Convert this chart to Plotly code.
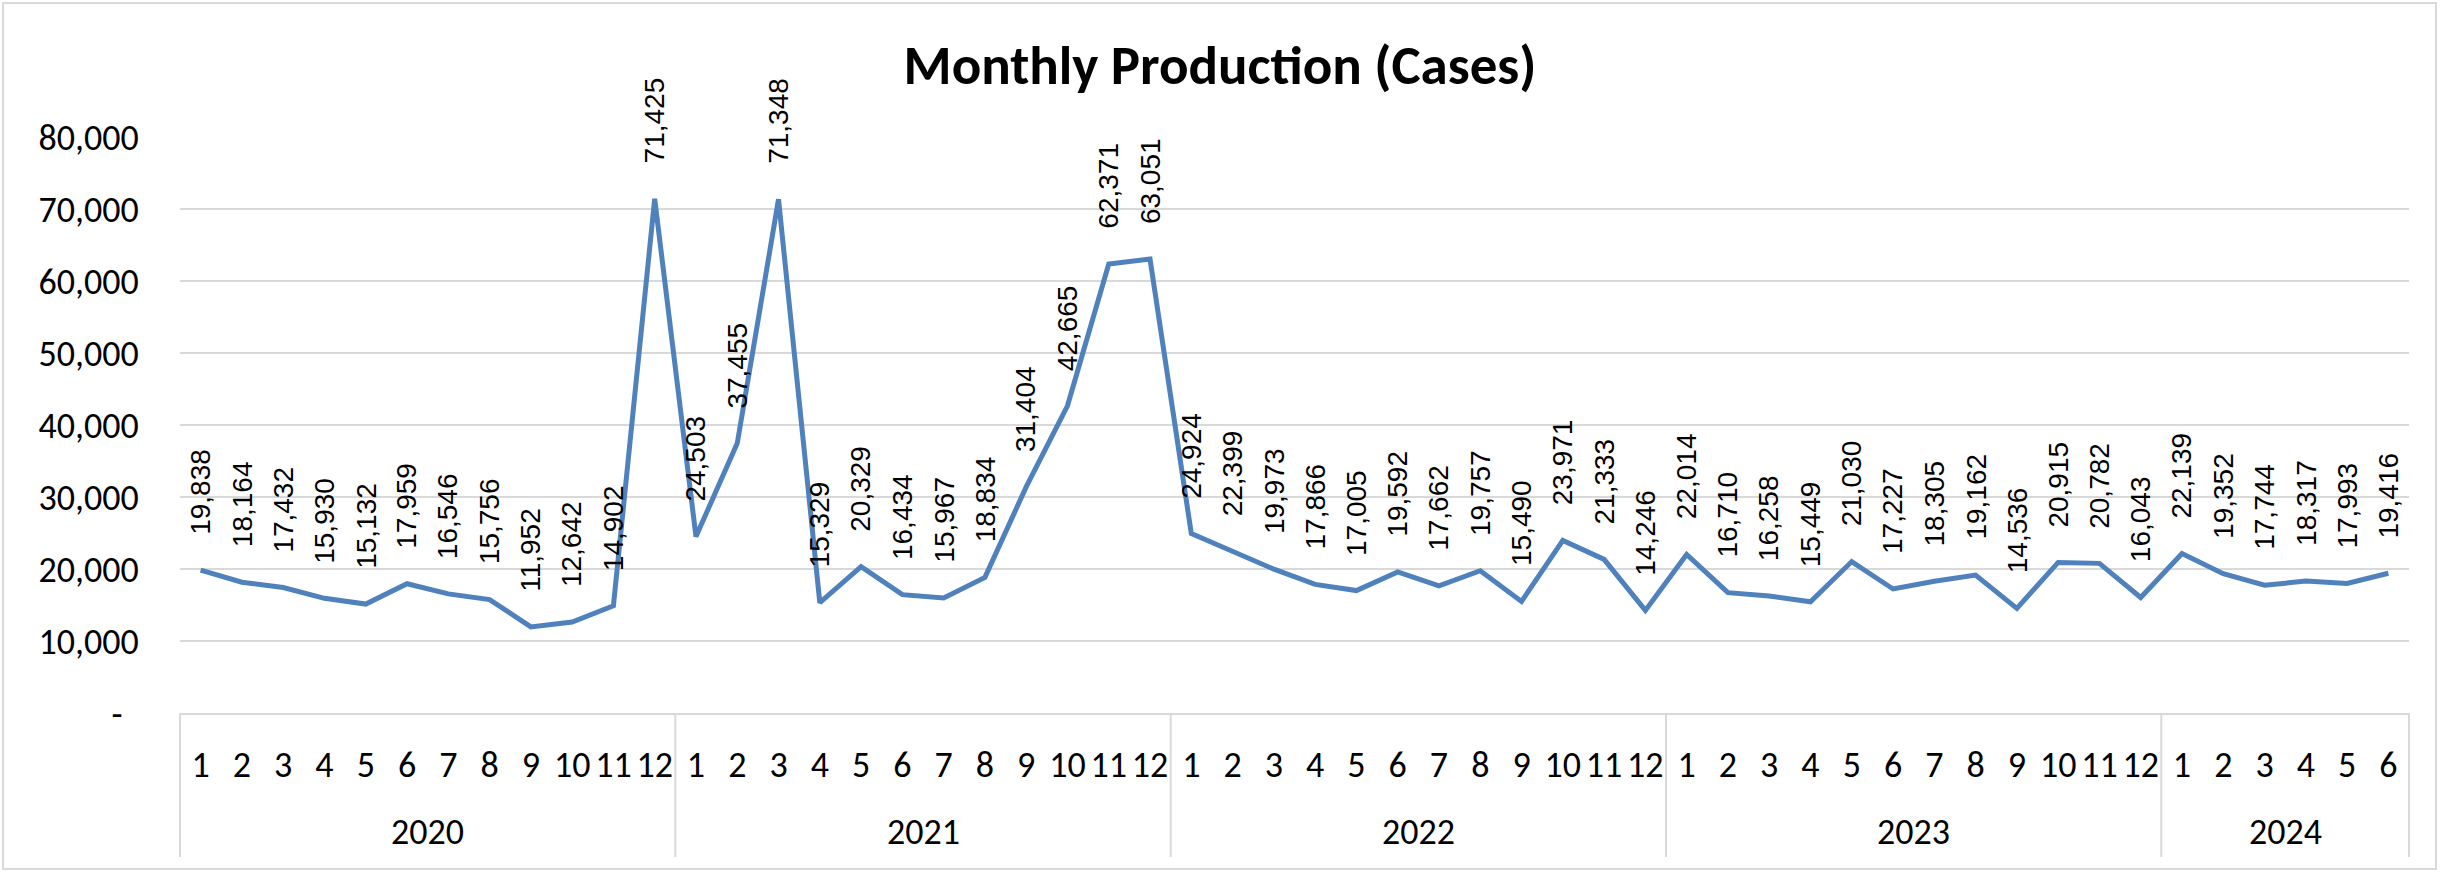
import plotly.graph_objects as go

title_text = "Monthly Production (Cases)"
years = ["2020", "2021", "2022", "2023", "2024"]
prod_2020 = [19838, 18164, 17432, 15930, 15132, 17959, 16546, 15756, 11952, 12642, 14902, 71425]
prod_2021 = [24503, 37455, 71348, 15329, 20329, 16434, 15967, 18834, 31404, 42665, 62371, 63051]
prod_2022 = [24924, 22399, 19973, 17866, 17005, 19592, 17662, 19757, 15490, 23971, 21333, 14246]
prod_2023 = [22014, 16710, 16258, 15449, 21030, 17227, 18305, 19162, 14536, 20915, 20782, 16043]
prod_2024 = [22139, 19352, 17744, 18317, 17993, 19416]
y_ticks = [0, 10000, 20000, 30000, 40000, 50000, 60000, 70000, 80000]

series = [prod_2020, prod_2021, prod_2022, prod_2023, prod_2024]

values, month_labels, groups = [], [], []
for yr, vals in zip(years, series):
    start = len(values)
    for m, v in enumerate(vals, start=1):
        values.append(v)
        month_labels.append(str(m))
    groups.append((yr, start, len(values) - 1))
x = list(range(len(values)))

y_ticktext = ["-\u00a0\u00a0" if v == 0 else f"{v:,}" for v in y_ticks]

AXIS_FONT = "Calibri, Carlito, Lato, sans-serif"
LABEL_FONT = "Arial Narrow, Liberation Sans Narrow, Liberation Sans, Arial, sans-serif"
GRID = "#D9D9D9"

fig = go.Figure()
fig.add_trace(go.Scatter(
    x=x, y=values, mode="lines",
    line=dict(color="#4F81BD", width=5),
    hoverinfo="y", showlegend=False,
))

annotations = []
for i, v in zip(x, values):
    annotations.append(dict(
        x=i, y=v, xref="x", yref="y", text=f"{v:,}", textangle=-90,
        showarrow=False, xanchor="center", yanchor="bottom", yshift=33,
        font=dict(family=LABEL_FONT, size=28, color="#000000"),
    ))

shapes = []
for yr, s, e in groups:
    annotations.append(dict(
        x=(s + e) / 2, y=-0.2066, xref="x", yref="paper", text=yr,
        showarrow=False, xanchor="center", yanchor="middle",
        font=dict(family=AXIS_FONT, size=36, color="#000000"),
    ))
    if s > 0:
        shapes.append(dict(type="line", xref="x", yref="paper", x0=s - 0.5, x1=s - 0.5,
                           y0=0, y1=-0.25, line=dict(color=GRID, width=2)))
for edge in (0, 1):
    shapes.append(dict(type="line", xref="paper", yref="paper", x0=edge, x1=edge,
                       y0=0, y1=-0.25, line=dict(color=GRID, width=2)))
# outer chart border
shapes.append(dict(type="rect", xref="paper", yref="paper",
                   x0=-0.0794, x1=1.0121, y0=-0.2708, y1=1.2326,
                   line=dict(color=GRID, width=2), fillcolor="rgba(0,0,0,0)", layer="below"))

fig.update_layout(
    width=2440, height=872,
    margin=dict(l=180, r=31, t=137, b=159),
    paper_bgcolor="white", plot_bgcolor="white",
    title=dict(text=f"<b>{title_text}</b>", x=0.5, xanchor="center",
               y=1 - 65 / 872, yanchor="middle", yref="container",
               font=dict(family=AXIS_FONT, size=55, color="#000000")),
    xaxis=dict(range=[-0.5, len(values) - 0.5], tickmode="array", tickvals=x,
               ticktext=month_labels, ticks="outside", ticklen=19,
               tickcolor="rgba(0,0,0,0)", showgrid=False, zeroline=False,
               showline=True, linecolor=GRID, linewidth=2,
               tickfont=dict(family=AXIS_FONT, size=36, color="#000000"),
               fixedrange=True),
    yaxis=dict(range=[0, 80000], tickmode="array", tickvals=y_ticks,
               ticktext=y_ticktext, ticks="outside", ticklen=33,
               tickcolor="rgba(0,0,0,0)", showgrid=True, gridcolor=GRID,
               gridwidth=2, zeroline=False, showline=False,
               tickfont=dict(family=AXIS_FONT, size=36, color="#000000"),
               fixedrange=True),
    annotations=annotations,
    shapes=shapes,
)

fig.write_html("out.html", config={"displayModeBar": False},
               post_script="document.body.style.margin='0';")
